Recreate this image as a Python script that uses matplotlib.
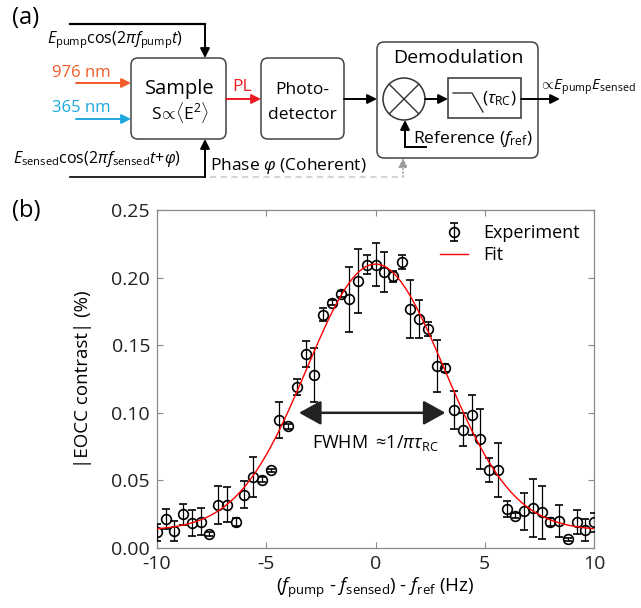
"""
EOCC demodulation scheme (a) and contrast vs. frequency detuning (b).
"""

import matplotlib

matplotlib.use("Agg")
import matplotlib.pyplot as plt
import numpy as np
from matplotlib.patches import Circle, FancyBboxPatch, Rectangle

plt.rcParams["font.family"] = ["Open Sans", "DejaVu Sans"]
plt.rcParams["mathtext.fontset"] = "custom"
plt.rcParams["mathtext.rm"] = "Open Sans"
plt.rcParams["mathtext.it"] = "Open Sans:italic"
plt.rcParams["mathtext.bf"] = "Open Sans:bold"

# ---- data (b) ----
detuning = np.round(np.arange(51) * 0.4 - 10.0, 1)  # Hz, step 0.4
contrast = [
    0.0115, 0.0215, 0.0125, 0.0250, 0.0185, 0.0195, 0.0105, 0.0315, 0.0320, 0.0195,
    0.0395, 0.0525, 0.0505, 0.0575, 0.0945, 0.0900, 0.1190, 0.1435, 0.1280, 0.1725,
    0.1815, 0.1880, 0.1840, 0.1975, 0.2095, 0.2095, 0.2040, 0.2010, 0.2115, 0.1770,
    0.1695, 0.1620, 0.1345, 0.1330, 0.1020, 0.0875, 0.0985, 0.0805, 0.0575, 0.0580,
    0.0290, 0.0240, 0.0270, 0.0295, 0.0265, 0.0190, 0.0200, 0.0065, 0.0190, 0.0135,
    0.0190,
]
contrast_err = [
    0.0060, 0.0077, 0.0074, 0.0077, 0.0095, 0.0098, 0.0015, 0.0140, 0.0130, 0.0030,
    0.0098, 0.0150, 0.0020, 0.0012, 0.0135, 0.0020, 0.0060, 0.0096, 0.0200, 0.0047,
    0.0020, 0.0020, 0.0240, 0.0240, 0.0070, 0.0160, 0.0146, 0.0040, 0.0050, 0.0215,
    0.0140, 0.0050, 0.0190, 0.0030, 0.0140, 0.0120, 0.0150, 0.0220, 0.0090, 0.0200,
    0.0060, 0.0020, 0.0140, 0.0215, 0.0195, 0.0030, 0.0120, 0.0012, 0.0090, 0.0080,
    0.0070,
]
# Gaussian fit: amplitude, centre (Hz), sigma (Hz), offset
fit_amp, fit_x0, fit_sigma, fit_offset = 0.197, 0.0, 3.15, 0.0130
fwhm_left, fwhm_right, fwhm_level = -3.5, 3.2, 0.10

xticks = [-10, -5, 0, 5, 10]
yticks = [0.00, 0.05, 0.10, 0.15, 0.20, 0.25]

C_976 = "#F15A29"
C_365 = "#1FA8E0"
C_PL = "#ED1C24"
GRAY = "#8a8a8a"

W, H = 641, 608
fig = plt.figure(figsize=(W / 100, H / 100), dpi=100)

# ---- panel (a): block diagram, drawn in pixel units ----
TOP_H = 190
da = fig.add_axes([0, 1 - TOP_H / H, 1, TOP_H / H])
da.set_xlim(0, W)
da.set_ylim(TOP_H, 0)
da.axis("off")


def arrow(ax, x0, y0, x1, y1, color="black", lw=1.4, ls="-"):
    ax.annotate("", xy=(x1, y1), xytext=(x0, y0),
                arrowprops=dict(arrowstyle="-|>", color=color, lw=lw, ls=ls,
                                mutation_scale=14, shrinkA=0, shrinkB=0))


def rbox(ax, x0, y0, x1, y1):
    ax.add_patch(FancyBboxPatch((x0, y0), x1 - x0, y1 - y0,
                                boxstyle="round,pad=0,rounding_size=7",
                                fc="white", ec="#444444", lw=1.1))


fig.text(12 / W, 1 - 18 / H, "(a)", fontsize=17, va="center")

# pump field into sample
da.plot([70, 205], [24, 24], color="black", lw=1.6)
arrow(da, 205, 24, 205, 58)
da.text(47, 43, r"$E_\mathrm{pump}$cos(2$\pi f_\mathrm{pump}t$)", fontsize=11.5, va="baseline")

# lasers
da.text(52, 77, "976 nm", color=C_976, fontsize=12, va="baseline")
arrow(da, 76, 83, 131, 83, color=C_976)
da.text(52, 112, "365 nm", color=C_365, fontsize=12, va="baseline")
arrow(da, 76, 119, 131, 119, color=C_365)

# sensed field
da.plot([70, 205], [177, 177], color="black", lw=1.2)
arrow(da, 205, 177, 205, 139)
da.text(13, 163, r"$E_\mathrm{sensed}$cos(2$\pi f_\mathrm{sensed}t$+$\varphi$)", fontsize=11.5, va="baseline")
da.text(210, 170, r"Phase $\varphi$ (Coherent)", fontsize=12.5, va="baseline")
da.plot([210, 403], [177, 177], color="#c8c8c8", lw=1.1, ls=(0, (4, 3)))
arrow(da, 403, 177, 403, 158, color="#999999", lw=1.0, ls=":")

# sample
rbox(da, 131, 58, 226, 139)
da.text(180, 94, "Sample", fontsize=14.5, ha="center", va="baseline")
da.text(180, 119, r"S$\!\propto\!\langle$E$^2\rangle$", fontsize=12.5, ha="center", va="baseline")

# PL
arrow(da, 226, 99, 261, 99, color=C_PL)
da.text(232, 91, "PL", color=C_PL, fontsize=12.5, va="baseline")

# photodetector
rbox(da, 261, 58, 344, 139)
da.text(302, 94, "Photo-", fontsize=12.5, ha="center", va="baseline")
da.text(302, 119, "detector", fontsize=12.5, ha="center", va="baseline")
arrow(da, 344, 99, 377, 99)

# demodulation
rbox(da, 377, 42, 538, 158)
da.text(458, 63, "Demodulation", fontsize=14, ha="center", va="baseline")
da.add_patch(Circle((404, 99), 21, fc="white", ec="#333333", lw=1.1))
r = 21 / np.sqrt(2)
da.plot([404 - r, 404 + r], [99 - r, 99 + r], color="#333333", lw=1.0)
da.plot([404 - r, 404 + r], [99 + r, 99 - r], color="#333333", lw=1.0)
arrow(da, 425, 99, 448, 99)
da.add_patch(Rectangle((448, 78), 73, 40, fc="white", ec="#333333", lw=1.1))
da.plot([453, 472, 483], [93, 93, 112], color="#333333", lw=1.0)
da.text(499, 103, r"($\tau_\mathrm{RC}$)", fontsize=12.5, ha="center", va="baseline")
arrow(da, 521, 99, 560, 99)
da.text(539, 90, r"$\propto\!E_\mathrm{pump}E_\mathrm{sensed}$", fontsize=11, va="baseline")

# reference
da.plot([426, 405], [147, 147], color="black", lw=1.4)
arrow(da, 405, 147, 405, 120)
da.text(413, 143, r"Reference ($f_\mathrm{ref}$)", fontsize=12.5, va="baseline")

# ---- panel (b): EOCC contrast ----
fig.text(12 / W, 1 - 211 / H, "(b)", fontsize=17, va="center")
ax = fig.add_axes([157 / W, 1 - 548 / H, (594 - 157) / W, (548 - 210) / H])

x_fit = np.linspace(-10, 10, 400)
y_fit = fit_amp * np.exp(-(x_fit - fit_x0) ** 2 / (2 * fit_sigma ** 2)) + fit_offset

ax.errorbar(detuning, contrast, yerr=contrast_err, fmt="o", ms=7, mfc="none",
            mec="black", mew=1.2, ecolor="black", elinewidth=0.9, capsize=3,
            capthick=0.9, color="black", label="Experiment", zorder=3)
ax.plot(x_fit, y_fit, color="red", lw=1.0, label="Fit", zorder=4)

ax.annotate("", xy=(fwhm_right, fwhm_level), xytext=(fwhm_left, fwhm_level),
            arrowprops=dict(arrowstyle="<|-|>,head_length=0.9,head_width=0.5",
                            color="#222222", lw=1.8, mutation_scale=15,
                            shrinkA=0, shrinkB=0), zorder=5)
ax.text(0, 0.078, r"FWHM $\approx\!$1/$\pi\tau_\mathrm{RC}$", fontsize=13,
        ha="center", va="center")

ax.set_xlim(-10, 10)
ax.set_ylim(0, 0.25)
ax.set_xticks(xticks)
ax.set_yticks(yticks)
ax.set_xticklabels([str(t) for t in xticks])
ax.set_yticklabels([f"{t:.2f}" for t in yticks])
ax.tick_params(direction="in", top=True, right=True, length=4, width=0.8,
               color=GRAY, labelsize=14, labelcolor="#222222", pad=5)
for s in ax.spines.values():
    s.set_color(GRAY)
    s.set_linewidth(0.9)

ax.set_xlabel(r"($f_\mathrm{pump}$ - $f_\mathrm{sensed}$) - $f_\mathrm{ref}$ (Hz)",
              fontsize=13.5, labelpad=2)
ax.set_ylabel("|EOCC contrast| (%)", fontsize=13.5, labelpad=14)

handles, labels = ax.get_legend_handles_labels()
order = [labels.index("Experiment"), labels.index("Fit")]
ax.legend([handles[i] for i in order], [labels[i] for i in order],
          loc="upper right", frameon=False, fontsize=13, handlelength=1.6,
          handletextpad=0.8, borderaxespad=0.4, labelspacing=0.2)

fig.savefig("out.png", dpi=100)
